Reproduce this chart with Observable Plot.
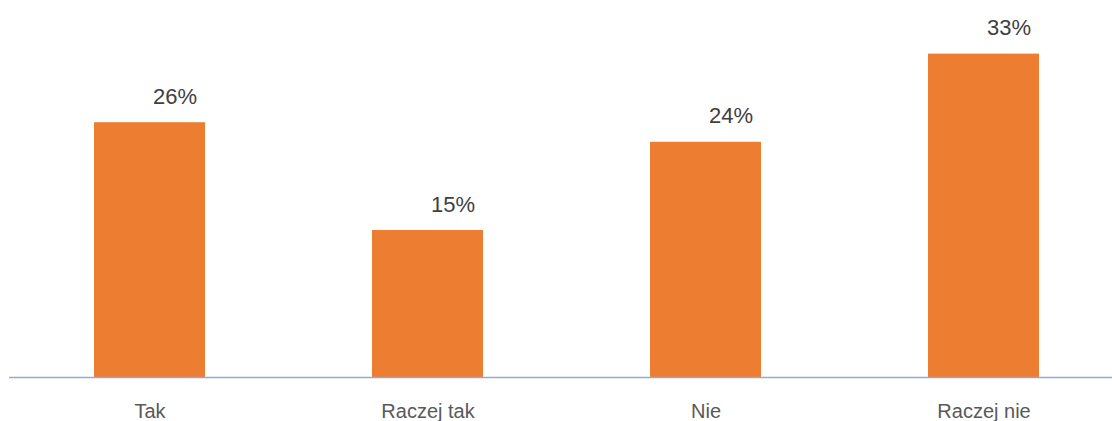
<!DOCTYPE html>
<html>
<head>
<meta charset="utf-8">
<script src="https://cdn.jsdelivr.net/npm/d3@7"></script>
<script src="https://cdn.jsdelivr.net/npm/@observablehq/plot@0.6"></script>
<style>
  html, body { margin: 0; padding: 0; background: #fff; }
  #chart svg { display: block; }
</style>
</head>
<body>
<div id="chart"></div>
<script>
const categories = ["Tak", "Raczej tak", "Nie", "Raczej nie"];
const values = [26, 15, 24, 33];
const valueLabels = ["26%", "15%", "24%", "33%"];

const data = categories.map((c, i) => ({category: c, value: values[i], label: valueLabels[i]}));

const chart = Plot.plot({
  width: 1112,
  height: 421,
  marginTop: 34,
  marginBottom: 44,
  marginLeft: 9,
  marginRight: 0,
  style: {fontFamily: "'Liberation Sans', Arial, sans-serif", background: "#fff", overflow: "visible"},
  x: {domain: categories, range: [9.5, 1123.5], paddingInner: 0.6, paddingOuter: 0.3, label: null},
  y: {domain: [0, 35], axis: null},
  marks: [
    Plot.barY(data, {x: "category", y: "value", fill: "#ED7D31"}),
    Plot.ruleY([0], {stroke: "#8FAADC", strokeWidth: 1.5}),
    Plot.text(data, {x: "category", y: "value", text: "label", lineAnchor: "bottom", dy: -19, dx: 25, fontSize: 22, fill: "#404040"}),
    Plot.axisX({tickSize: 0, tickPadding: 26, fontSize: 20, color: "#595959", label: null})
  ]
});
document.getElementById("chart").append(chart);
</script>
</body>
</html>
